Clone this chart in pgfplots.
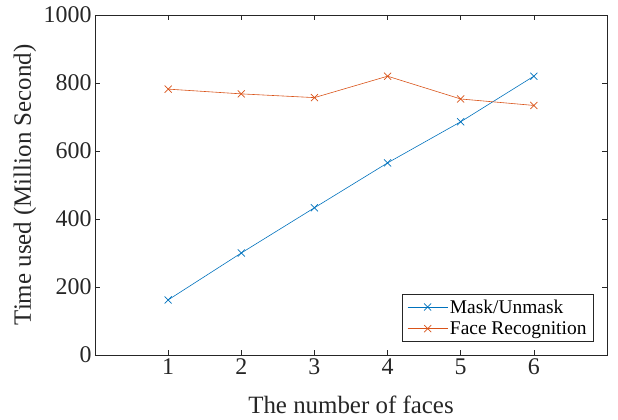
\documentclass[border=0pt]{standalone}
\usepackage{fontspec}
\setmainfont{Liberation Serif}
\usepackage{pgfplots}
\pgfplotsset{compat=1.18}
\definecolor{mblue}{rgb}{0,0.447,0.741}
\definecolor{morange}{rgb}{0.85,0.325,0.098}
\definecolor{axgray}{rgb}{0.15,0.15,0.15}
\begin{document}
\begin{tikzpicture}
\path[use as bounding box] (-95bp,-65bp) rectangle (523bp,355bp);
\begin{axis}[
  at={(0,0)}, anchor=south west,
  scale only axis, width=512bp, height=340bp,
  xmin=0, xmax=7, ymin=0, ymax=1000,
  xtick={1,2,3,4,5,6}, ytick={0,200,400,600,800,1000},
  tick align=inside, major tick length=5bp,
  axis line style={axgray, line width=0.5pt},
  every tick/.style={axgray, line width=0.5pt},
  tick label style={font=\fontsize{24}{28}\selectfont, text=axgray},
  /pgf/number format/assume math mode=true,
  /pgf/number format/1000 sep={},
  xlabel={The number of faces},
  ylabel={Time used (Million Second)},
  label style={font=\fontsize{25}{30}\selectfont, text=axgray},
  xlabel style={at={(axis description cs:0.5,-0.147)}, anchor=center},
  ylabel style={at={(axis description cs:-0.137,0.5)}, anchor=center},
  legend style={at={(0.974,0.041)}, anchor=south east, font=\fontsize{19.5}{23}\selectfont,
    draw=axgray, line width=0.5pt, row sep=3pt, inner xsep=5pt, inner ysep=3pt},
  legend cell align=left,
  legend image code/.code={\draw[mark repeat=2,mark phase=2] plot coordinates {(0bp,0bp) (20bp,0bp) (40bp,0bp)};},
]
\addplot[mblue, line width=0.6pt, mark=x, mark size=5pt, mark options={line width=0.7pt}] coordinates {
(1,162) (2,300) (3,433) (4,565) (5,686) (6,820)};
\addlegendentry{Mask/Unmask}
\addplot[morange, line width=0.6pt, mark=x, mark size=5pt, mark options={line width=0.7pt}] coordinates {
(1,782) (2,768) (3,757) (4,820) (5,753) (6,734)};
\addlegendentry{Face Recognition}
\end{axis}
\end{tikzpicture}
\end{document}
